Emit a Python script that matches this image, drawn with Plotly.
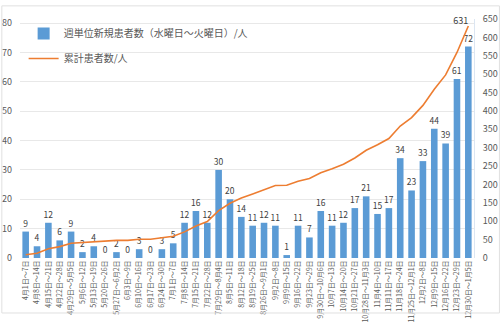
import plotly.graph_objects as go

weeks = ["4月1日～7日", "4月8日～14日", "4月15日～21日", "4月22日～28日", "4月29日～5月5日",
         "5月6日～12日", "5月13日～19日", "5月20日～26日", "5月27日～6月2日", "6月3日～9日",
         "6月10日～16日", "6月17日～23日", "6月24日～30日", "7月1日～7日", "7月8日～14日",
         "7月15日～21日", "7月22日～28日", "7月29日～8月4日", "8月5日～11日", "8月12日～18日",
         "8月19日～25日", "8月26日～9月1日", "9月2日～8日", "9月9日～15日", "9月16日～22日",
         "9月23日～29日", "9月30日～10月6日", "10月7日～13日", "10月14日～20日", "10月21日～27日",
         "10月28日～11月3日", "11月4日～10日", "11月11日～17日", "11月18日～24日", "11月25日～12月1日",
         "12月2日～8日", "12月9日～15日", "12月16日～22日", "12月23日～29日", "12月30日～1月5日"]

weekly_new = [9, 4, 12, 6, 9, 2, 4, 0, 2, 0,
              3, 0, 3, 5, 12, 16, 12, 30, 20, 14,
              11, 12, 11, 1, 11, 7, 16, 11, 12, 17,
              21, 15, 17, 34, 23, 33, 44, 39, 61, 72]

cumulative = [9, 13, 25, 31, 40, 42, 46, 46, 48, 48,
              51, 51, 54, 59, 71, 87, 99, 129, 149, 163,
              174, 186, 197, 198, 209, 216, 232, 243, 255, 272,
              293, 308, 325, 359, 382, 415, 459, 498, 559, 631]

line_labels = [""] * (len(cumulative) - 1) + [str(cumulative[-1])]

FONT = "Noto Sans CJK JP"
GRAY = "#595959"

fig = go.Figure()
fig.add_trace(go.Bar(
    x=weeks, y=weekly_new, name="週単位新規患者数（水曜日～火曜日）/人",
    marker=dict(color="#5B9BD5", line=dict(width=0)),
    text=[str(v) for v in weekly_new], textposition="outside",
    textfont=dict(size=8.5, color="#404040", family=FONT),
    cliponaxis=False, legendgroup="a", yaxis="y",
))
fig.add_trace(go.Scatter(
    x=weeks, y=cumulative, name="累計患者数/人", mode="lines+text",
    line=dict(color="#ED7D31", width=1.6),
    text=line_labels, textposition="top left",
    textfont=dict(size=9, color="#404040", family=FONT),
    cliponaxis=False, legendgroup="b", yaxis="y2",
))

fig.update_layout(
    width=500, height=335,
    margin=dict(l=20, r=26, t=19, b=77),
    paper_bgcolor="white", plot_bgcolor="white",
    font=dict(family=FONT, color=GRAY),
    bargap=0.42,
    uniformtext=dict(minsize=8.5, mode="show"),
    showlegend=True,
    legend=dict(x=0.008, y=1.0, xanchor="left", yanchor="top",
                font=dict(size=10, color=GRAY, family=FONT),
                bgcolor="rgba(0,0,0,0)", traceorder="grouped", tracegroupgap=6),
    xaxis=dict(type="category", range=[-0.5, len(weeks) - 0.5],
               tickmode="linear", dtick=1,
               tickangle=-90, tickfont=dict(size=7, color=GRAY),
               showgrid=False, showline=False, ticks="", automargin=False),
    yaxis=dict(range=[0, 81.4], dtick=10, tickfont=dict(size=9, color=GRAY),
               gridcolor="#E8E8E8", gridwidth=1, zeroline=False, showline=False,
               ticks="", ticklabelstandoff=7, automargin=False),
    yaxis2=dict(range=[0, 650], dtick=50, overlaying="y", side="right",
                tickfont=dict(size=9, color=GRAY), showgrid=False, zeroline=False,
                showline=True, linecolor="#DCE6F2", linewidth=1, ticks="",
                ticklabelstandoff=6, automargin=False),
    shapes=[dict(type="rect", xref="paper", yref="paper", x0=-0.04, x1=1.056,
                 y0=-0.23, y1=1.055, line=dict(color="#E0E0E0", width=1))],
)

fig.write_html("out.html")
